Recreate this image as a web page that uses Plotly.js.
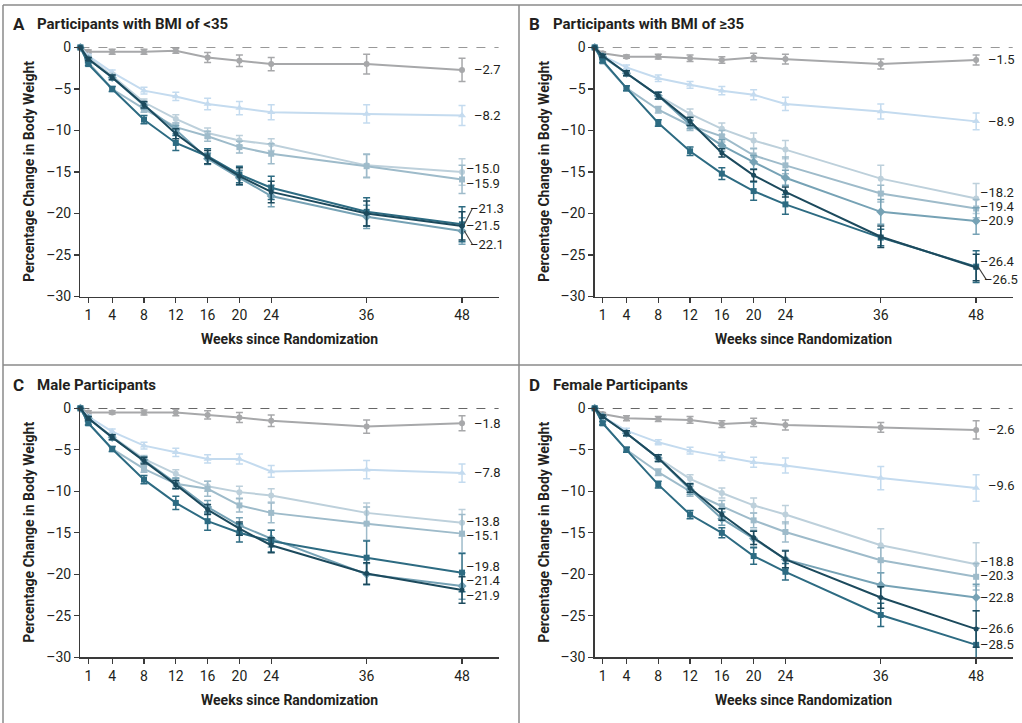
<!DOCTYPE html>
<html>
<head>
<meta charset="utf-8">
<script src="https://cdn.plot.ly/plotly-3.0.1.min.js"></script>
<style>html,body{margin:0;padding:0;background:#fff;}#chart{width:1022px;height:723px;}</style>
</head>
<body>
<div id="chart"></div>
<script>
// ---------- DATA ----------
const weeks = [0, 1, 4, 8, 12, 16, 20, 24, 36, 48];
const tickWeeks = [1, 4, 8, 12, 16, 20, 24, 36, 48];
const yTicks = [0, -5, -10, -15, -20, -25, -30];
const yTickText = ['0', '–5', '–10', '–15', '–20', '–25', '–30'];
const groupNames = ['Placebo', '1 mg', '4 mg (initial 2 mg)', '4 mg', '8 mg (initial 2 mg)', '8 mg (initial 4 mg)', '12 mg (initial 2 mg)'];
const panelTitles = ['Participants with BMI of <35', 'Participants with BMI of ≥35', 'Male Participants', 'Female Participants'];
const panelLetters = ['A', 'B', 'C', 'D'];

// Panel A: BMI < 35
const a_placebo  = [0, -0.5, -0.5, -0.5, -0.4, -1.2, -1.6, -2.0, -2.0, -2.7];
const a_1mg      = [0, -1.0, -3.0, -5.2, -5.9, -6.8, -7.3, -7.8, -8.0, -8.2];
const a_4mgInit2 = [0, -1.2, -3.4, -6.6, -8.6, -10.3, -11.2, -11.7, -14.2, -15.0];
const a_4mg      = [0, -1.8, -5.0, -7.4, -9.6, -10.7, -12.0, -12.8, -14.3, -15.9];
const a_8mgInit2 = [0, -1.4, -3.6, -7.0, -9.9, -13.4, -15.7, -17.9, -20.4, -22.1];
const a_8mgInit4 = [0, -2.0, -5.0, -8.7, -11.5, -13.1, -15.3, -16.9, -19.8, -21.3];
const a_12mg     = [0, -1.4, -3.6, -6.9, -10.4, -13.2, -15.5, -17.4, -20.0, -21.5];
const a_err_placebo  = [0, 0.2, 0.3, 0.3, 0.3, 0.6, 0.7, 0.8, 1.2, 1.4];
const a_err_1mg      = [0, 0.2, 0.3, 0.4, 0.5, 0.7, 0.8, 0.9, 1.1, 1.2];
const a_err_4mgInit2 = [0, 0.2, 0.3, 0.4, 0.5, 0.6, 0.6, 0.7, 1.4, 1.6];
const a_err_4mg      = [0, 0.2, 0.3, 0.4, 0.5, 0.6, 0.7, 1.2, 1.4, 1.7];
const a_err_8mgInit2 = [0, 0.2, 0.3, 0.4, 0.5, 0.7, 0.9, 1.3, 1.4, 1.6];
const a_err_8mgInit4 = [0, 0.2, 0.3, 0.5, 0.9, 0.9, 1.0, 1.4, 1.7, 2.1];
const a_err_12mg     = [0, 0.2, 0.3, 0.4, 0.6, 0.8, 1.0, 1.3, 1.5, 1.7];

// Panel B: BMI >= 35
const b_placebo  = [0, -0.7, -1.1, -1.1, -1.3, -1.5, -1.2, -1.4, -2.0, -1.5];
const b_1mg      = [0, -1.0, -2.4, -3.7, -4.5, -5.2, -5.7, -6.8, -7.7, -8.9];
const b_4mgInit2 = [0, -1.0, -3.1, -5.8, -8.0, -9.8, -11.2, -12.3, -15.8, -18.2];
const b_4mg      = [0, -1.7, -4.9, -7.5, -9.4, -10.7, -13.0, -14.2, -17.6, -19.4];
const b_8mgInit2 = [0, -1.1, -3.1, -5.8, -9.3, -11.8, -13.8, -15.7, -19.8, -20.9];
const b_8mgInit4 = [0, -1.6, -4.9, -9.1, -12.5, -15.2, -17.3, -18.9, -22.9, -26.4];
const b_12mg     = [0, -1.0, -3.1, -5.8, -8.9, -12.7, -15.4, -17.4, -22.8, -26.5];
const b_err_placebo  = [0, 0.2, 0.2, 0.3, 0.4, 0.4, 0.5, 0.6, 0.6, 0.6];
const b_err_1mg      = [0, 0.2, 0.3, 0.4, 0.4, 0.5, 0.6, 0.8, 0.9, 1.0];
const b_err_4mgInit2 = [0, 0.2, 0.3, 0.4, 0.6, 0.7, 0.9, 1.1, 1.6, 1.8];
const b_err_4mg      = [0, 0.2, 0.3, 0.4, 0.6, 0.7, 0.8, 1.0, 1.0, 1.1];
const b_err_8mgInit2 = [0, 0.2, 0.3, 0.4, 0.5, 0.7, 0.8, 0.9, 1.5, 1.6];
const b_err_8mgInit4 = [0, 0.2, 0.3, 0.4, 0.5, 0.7, 1.1, 1.2, 1.0, 1.9];
const b_err_12mg     = [0, 0.2, 0.3, 0.4, 0.5, 0.5, 0.7, 0.6, 1.3, 1.6];

// Panel C: male
const c_placebo  = [0, -0.5, -0.5, -0.5, -0.5, -0.8, -1.1, -1.5, -2.2, -1.8];
const c_1mg      = [0, -1.0, -2.8, -4.5, -5.3, -6.1, -6.1, -7.6, -7.4, -7.8];
const c_4mgInit2 = [0, -1.2, -3.4, -6.1, -7.9, -9.4, -10.1, -10.5, -12.6, -13.8];
const c_4mg      = [0, -1.8, -4.9, -7.3, -9.1, -9.7, -11.7, -12.6, -13.9, -15.1];
const c_8mgInit2 = [0, -1.2, -3.5, -6.2, -9.0, -11.9, -14.1, -15.7, -20.0, -21.4];
const c_8mgInit4 = [0, -1.8, -4.9, -8.6, -11.4, -13.6, -15.0, -16.0, -18.0, -19.8];
const c_12mg     = [0, -1.2, -3.5, -6.3, -9.2, -12.2, -14.5, -16.5, -19.9, -21.9];
const c_err_placebo  = [0, 0.2, 0.2, 0.3, 0.4, 0.5, 0.6, 0.7, 0.8, 0.9];
const c_err_1mg      = [0, 0.2, 0.3, 0.4, 0.5, 0.5, 0.6, 0.7, 1.1, 1.1];
const c_err_4mgInit2 = [0, 0.2, 0.3, 0.4, 0.5, 0.6, 0.7, 0.8, 1.2, 1.6];
const c_err_4mg      = [0, 0.2, 0.3, 0.4, 0.6, 0.9, 0.8, 1.2, 2.0, 2.3];
const c_err_8mgInit2 = [0, 0.2, 0.3, 0.4, 0.6, 0.8, 0.9, 1.0, 1.3, 1.6];
const c_err_8mgInit4 = [0, 0.2, 0.3, 0.5, 0.8, 1.1, 1.1, 1.3, 2.0, 2.3];
const c_err_12mg     = [0, 0.2, 0.3, 0.4, 0.5, 0.6, 0.8, 0.9, 1.3, 1.6];

// Panel D: female
const d_placebo  = [0, -0.7, -1.2, -1.3, -1.4, -1.9, -1.7, -2.0, -2.3, -2.6];
const d_1mg      = [0, -1.0, -2.7, -4.1, -5.1, -5.8, -6.5, -6.9, -8.4, -9.6];
const d_4mgInit2 = [0, -1.0, -3.0, -6.0, -8.5, -10.2, -11.7, -12.8, -16.5, -18.8];
const d_4mg      = [0, -1.8, -5.0, -7.7, -10.0, -11.8, -13.5, -14.9, -18.3, -20.3];
const d_8mgInit2 = [0, -1.0, -3.0, -6.0, -9.8, -13.3, -15.7, -18.2, -21.3, -22.8];
const d_8mgInit4 = [0, -1.8, -5.0, -9.2, -12.8, -15.0, -17.8, -19.7, -24.9, -28.5];
const d_12mg     = [0, -1.0, -3.0, -6.0, -9.6, -12.8, -15.6, -18.2, -22.8, -26.6];
const d_err_placebo  = [0, 0.2, 0.3, 0.3, 0.4, 0.4, 0.5, 0.6, 0.6, 1.1];
const d_err_1mg      = [0, 0.2, 0.3, 0.3, 0.4, 0.5, 0.6, 0.9, 1.4, 1.6];
const d_err_4mgInit2 = [0, 0.2, 0.3, 0.4, 0.5, 0.6, 0.9, 1.1, 2.0, 2.6];
const d_err_4mg      = [0, 0.2, 0.3, 0.4, 0.6, 0.7, 0.9, 1.2, 1.5, 1.6];
const d_err_8mgInit2 = [0, 0.2, 0.3, 0.4, 0.6, 0.8, 1.0, 1.1, 1.5, 1.6];
const d_err_8mgInit4 = [0, 0.2, 0.3, 0.4, 0.5, 0.6, 1.0, 1.0, 1.4, 2.0];
const d_err_12mg     = [0, 0.2, 0.3, 0.4, 0.5, 0.7, 0.8, 1.0, 1.3, 2.2];

// ---------- STYLE / LAYOUT ----------
const W = 1022, H = 723;
const FONT = '"Roboto", "Liberation Sans", sans-serif';
const TXT = '#231f20';
const colors = ['#a7a8aa', '#c4dbef', '#bdd0db', '#9ebbca', '#76a2b5', '#2d6b82', '#1c4a5d'];
const symbols = ['circle', 'triangle-up', 'circle', 'square', 'diamond', 'square', 'circle'];
const msize = [6, 7, 6, 6, 7, 6, 5];

// label placement (data-unit y of each end label, and pixel shift right of week 48)
const panels = [
  {vals: [a_placebo, a_1mg, a_4mgInit2, a_4mg, a_8mgInit2, a_8mgInit4, a_12mg],
   errs: [a_err_placebo, a_err_1mg, a_err_4mgInit2, a_err_4mg, a_err_8mgInit2, a_err_8mgInit4, a_err_12mg],
   labelY: [-2.7, -8.2, -14.6, -16.4, -23.7, -19.4, -21.5], labelShift: [10, 10, 2, 2, 6, 6, 2]},
  {vals: [b_placebo, b_1mg, b_4mgInit2, b_4mg, b_8mgInit2, b_8mgInit4, b_12mg],
   errs: [b_err_placebo, b_err_1mg, b_err_4mgInit2, b_err_4mg, b_err_8mgInit2, b_err_8mgInit4, b_err_12mg],
   labelY: [-1.5, -8.9, -17.5, -19.1, -20.9, -25.8, -28.0], labelShift: [10, 10, 2, 2, 2, 2, 6]},
  {vals: [c_placebo, c_1mg, c_4mgInit2, c_4mg, c_8mgInit2, c_8mgInit4, c_12mg],
   errs: [c_err_placebo, c_err_1mg, c_err_4mgInit2, c_err_4mg, c_err_8mgInit2, c_err_8mgInit4, c_err_12mg],
   labelY: [-1.8, -7.7, -13.6, -15.3, -20.8, -19.1, -22.5], labelShift: [10, 10, 2, 2, 2, 2, 2]},
  {vals: [d_placebo, d_1mg, d_4mgInit2, d_4mg, d_8mgInit2, d_8mgInit4, d_12mg],
   errs: [d_err_placebo, d_err_1mg, d_err_4mgInit2, d_err_4mg, d_err_8mgInit2, d_err_8mgInit4, d_err_12mg],
   labelY: [-2.5, -9.3, -18.5, -20.1, -22.8, -28.4, -26.5], labelShift: [10, 10, 2, 2, 2, 2, 2]}
];

// pixel geometry
const xDomL = [80.4 / W, 498.6 / W];
const xDomR = [594.7 / W, 1012.7 / W];
const yDomT = [1 - 296.5 / H, 1 - 47.5 / H];
const yDomB = [1 - 657.3 / H, 1 - 408.3 / H];
const geo = [
  {xd: xDomL, yd: yDomT, letterX: 11, titleX: 35, titleY: 24, yTitleX: 29, xTitleY: 339},
  {xd: xDomR, yd: yDomT, letterX: 527, titleX: 551, titleY: 24, yTitleX: 544, xTitleY: 339},
  {xd: xDomL, yd: yDomB, letterX: 11, titleX: 35, titleY: 385, yTitleX: 29, xTitleY: 700},
  {xd: xDomR, yd: yDomB, letterX: 527, titleX: 551, titleY: 385, yTitleX: 544, xTitleY: 700}
];

const fmt = v => (v < 0 ? '–' : '') + Math.abs(v).toFixed(1);

const traces = [];
const shapes = [];
const annotations = [];
const layout = {
  width: W, height: H, autosize: false,
  margin: {l: 0, r: 0, t: 0, b: 0},
  paper_bgcolor: '#fff', plot_bgcolor: '#fff',
  showlegend: false,
  font: {family: FONT, color: TXT, size: 13}
};

panels.forEach((p, i) => {
  const n = i + 1;
  const xa = 'xaxis' + (n === 1 ? '' : n), ya = 'yaxis' + (n === 1 ? '' : n);
  const xr = 'x' + (n === 1 ? '' : n), yr = 'y' + (n === 1 ? '' : n);
  const g = geo[i];
  layout[xa] = {
    domain: g.xd, anchor: yr, range: [0, 52.6],
    tickvals: tickWeeks, ticktext: tickWeeks.map(String),
    ticks: 'outside', ticklen: 5, tickwidth: 1.3, tickcolor: '#3a3a3a',
    showline: true, linecolor: '#3a3a3a', linewidth: 1.4,
    showgrid: false, zeroline: false, fixedrange: true,
    tickfont: {family: FONT, size: 14, color: TXT}
  };
  layout[ya] = {
    domain: g.yd, anchor: xr, range: [-30, 0],
    tickvals: yTicks, ticktext: yTickText,
    ticks: 'outside', ticklen: 5, tickwidth: 1.3, tickcolor: '#3a3a3a',
    showline: true, linecolor: '#3a3a3a', linewidth: 1.4,
    showgrid: false, zeroline: false, fixedrange: true,
    tickfont: {family: FONT, size: 14, color: TXT}
  };
  // dashed zero reference line
  shapes.push({type: 'line', xref: xr + ' domain', yref: yr, x0: 0, x1: 1, y0: 0, y1: 0,
    line: {color: '#333', width: 1.2, dash: 'dash'}, layer: 'below'});

  p.vals.forEach((v, k) => {
    traces.push({
      type: 'scatter', mode: 'lines+markers', x: weeks, y: v,
      xaxis: xr, yaxis: yr, name: groupNames[k], cliponaxis: false,
      line: {color: colors[k], width: 2},
      marker: {color: colors[k], symbol: symbols[k], size: msize[k]},
      error_y: {type: 'data', array: p.errs[k], visible: true, color: colors[k], thickness: 1.5, width: 3.5}
    });
    const last = v[v.length - 1];
    const ly = p.labelY[k];
    annotations.push({
      xref: xr, yref: yr, x: 48, y: ly, xanchor: 'left', yanchor: 'middle',
      xshift: p.labelShift[k], showarrow: false, text: fmt(last),
      font: {family: FONT, size: 13, color: TXT}
    });
    if (Math.abs(ly - last) > 0.85) {
      shapes.push({type: 'line', xref: xr, yref: yr, x0: 48.3, x1: 49.3, y0: last, y1: ly,
        line: {color: '#3a3a3a', width: 1.1}});
    }
  });

  // panel letter + title
  annotations.push({xref: 'paper', yref: 'paper', x: g.letterX / W, y: 1 - g.titleY / H,
    xanchor: 'left', yanchor: 'middle', showarrow: false, text: '<b>' + panelLetters[i] + '</b>',
    font: {family: FONT, size: 17, color: TXT}});
  annotations.push({xref: 'paper', yref: 'paper', x: g.titleX / W, y: 1 - g.titleY / H,
    xanchor: 'left', yanchor: 'middle', showarrow: false, text: '<b>' + panelTitles[i] + '</b>',
    font: {family: FONT, size: 15, color: TXT}});
  // axis titles
  annotations.push({xref: 'paper', yref: 'paper', x: g.yTitleX / W, y: (g.yd[0] + g.yd[1]) / 2,
    xanchor: 'center', yanchor: 'middle', showarrow: false, textangle: -90,
    text: '<b>Percentage Change in Body Weight</b>', font: {family: FONT, size: 14, color: TXT}});
  annotations.push({xref: 'paper', yref: 'paper', x: (g.xd[0] + g.xd[1]) / 2, y: 1 - g.xTitleY / H,
    xanchor: 'center', yanchor: 'middle', showarrow: false,
    text: '<b>Weeks since Randomization</b>', font: {family: FONT, size: 14, color: TXT}});
});

// panel frame lines
const frameColor = '#8a8a8a';
shapes.push({type: 'line', xref: 'paper', yref: 'paper', x0: 3 / W, x1: 1, y0: 1 - 5 / H, y1: 1 - 5 / H, line: {color: frameColor, width: 1.5}});
shapes.push({type: 'line', xref: 'paper', yref: 'paper', x0: 3 / W, x1: 1, y0: 1 - 365 / H, y1: 1 - 365 / H, line: {color: frameColor, width: 1.5}});
shapes.push({type: 'line', xref: 'paper', yref: 'paper', x0: 3 / W, x1: 3 / W, y0: 0, y1: 1 - 5 / H, line: {color: frameColor, width: 1.5}});
shapes.push({type: 'line', xref: 'paper', yref: 'paper', x0: 519 / W, x1: 519 / W, y0: 0, y1: 1 - 5 / H, line: {color: frameColor, width: 1.5}});

layout.shapes = shapes;
layout.annotations = annotations;

Plotly.newPlot('chart', traces, layout, {displayModeBar: false, staticPlot: true});
</script>
</body>
</html>
